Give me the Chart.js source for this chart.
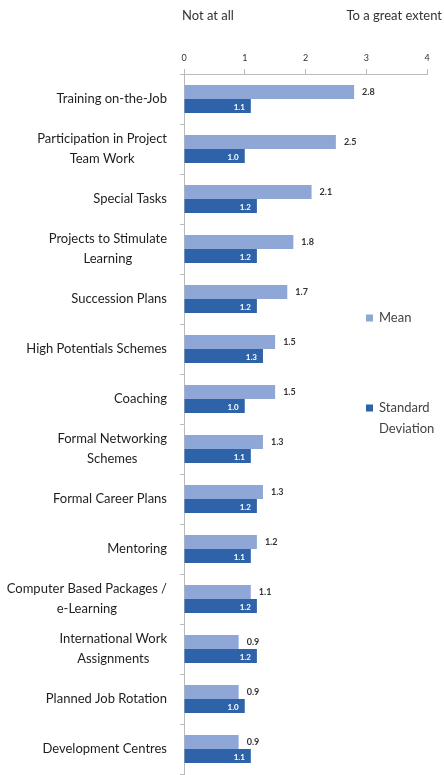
<!DOCTYPE html>
<html>
<head>
<meta charset="utf-8">
<script src="https://cdn.jsdelivr.net/npm/chart.js@4/dist/chart.umd.min.js"></script>
<style>
  html, body { margin: 0; padding: 0; background: #fff; }
  #wrap { position: relative; width: 444px; height: 775px; }
</style>
</head>
<body>
<div id="wrap"><canvas id="c" width="444" height="775"></canvas></div>
<script>
const categories = [
  "Training on-the-Job",
  ["Participation in Project", "Team Work"],
  "Special Tasks",
  ["Projects to Stimulate", "Learning"],
  "Succession Plans",
  "High Potentials Schemes",
  "Coaching",
  ["Formal Networking", "Schemes"],
  "Formal Career Plans",
  "Mentoring",
  ["Computer Based Packages /", "e-Learning"],
  ["International Work", "Assignments"],
  "Planned Job Rotation",
  "Development Centres"
];
const meanValues = [2.8, 2.5, 2.1, 1.8, 1.7, 1.5, 1.5, 1.3, 1.3, 1.2, 1.1, 0.9, 0.9, 0.9];
const sdValues   = [1.1, 1.0, 1.2, 1.2, 1.2, 1.3, 1.0, 1.1, 1.2, 1.1, 1.2, 1.2, 1.0, 1.1];
const xTicks = [0, 1, 2, 3, 4];
const seriesNames = ["Mean", ["Standard", "Deviation"]];
const scaleEnds = ["Not at all", "To a great extent"];

const FONT = "Lato, 'Open Sans', sans-serif";
const LIGHT = "#8ea7d7";
const DARK = "#2f63a9";

const decorPlugin = {
  id: 'decor',
  afterDatasetsDraw(chart) {
    const ctx = chart.ctx;
    const x = chart.scales.x;
    const y = chart.scales.y;
    ctx.save();
    // category labels: block right-aligned, lines centred within block
    ctx.fillStyle = '#1e1e1e';
    ctx.font = "13px " + FONT;
    ctx.textBaseline = 'middle';
    ctx.textAlign = 'center';
    const rightEdge = y.right - 17;
    const lh = 20;
    chart.data.labels.forEach((lab, i) => {
      const lines = Array.isArray(lab) ? lab : [lab];
      const w = Math.max(...lines.map(l => ctx.measureText(l).width));
      const cx = rightEdge - w / 2;
      const cy = y.getPixelForTick(i);
      lines.forEach((ln, j) => {
        ctx.fillText(ln, cx, cy + (j - (lines.length - 1) / 2) * lh);
      });
    });
    // value labels
    chart.data.datasets.forEach((ds, di) => {
      const meta = chart.getDatasetMeta(di);
      meta.data.forEach((bar, i) => {
        const v = ds.data[i].toFixed(1);
        if (di === 0) {
          ctx.fillStyle = '#333';
          ctx.font = "bold 9px " + FONT;
          ctx.textAlign = 'left';
          ctx.textBaseline = 'middle';
          ctx.fillText(v, bar.x + 8, bar.y);
        } else {
          ctx.fillStyle = '#ffffff';
          ctx.font = "bold 8px " + FONT;
          ctx.textAlign = 'right';
          ctx.textBaseline = 'middle';
          ctx.fillText(v, bar.x - 6, bar.y + 1);
        }
      });
    });
    // scale end captions
    ctx.fillStyle = '#333';
    ctx.font = "13px " + FONT;
    ctx.textBaseline = 'middle';
    ctx.textAlign = 'left';
    ctx.fillText(scaleEnds[0], x.getPixelForValue(0) - 2, 16);
    ctx.textAlign = 'right';
    ctx.fillText(scaleEnds[1], 442, 16);
    // legend
    const colors = [LIGHT, DARK];
    const legendY = [318, 408];
    seriesNames.forEach((name, k) => {
      const lines = Array.isArray(name) ? name : [name];
      ctx.fillStyle = colors[k];
      ctx.fillRect(366, legendY[k] - 3.5, 7, 7);
      ctx.fillStyle = '#444';
      ctx.font = "13px " + FONT;
      ctx.textAlign = 'left';
      lines.forEach((ln, j) => ctx.fillText(ln, 379, legendY[k] + j * 21));
    });
    ctx.restore();
  }
};

new Chart(document.getElementById('c'), {
  type: 'bar',
  data: {
    labels: categories,
    datasets: [
      { label: 'Mean', data: meanValues, backgroundColor: LIGHT, borderWidth: 0,
        categoryPercentage: 0.56, barPercentage: 1.0 },
      { label: 'Standard Deviation', data: sdValues, backgroundColor: DARK, borderWidth: 0,
        categoryPercentage: 0.56, barPercentage: 1.0 }
    ]
  },
  options: {
    indexAxis: 'y',
    responsive: false,
    animation: false,
    layout: { padding: { left: 0, right: 17, top: 0, bottom: 1 } },
    plugins: { legend: { display: false }, tooltip: { enabled: false } },
    scales: {
      x: {
        position: 'top',
        min: 0, max: 4,
        afterBuildTicks(s) { s.ticks = xTicks.map(v => ({ value: v })); },
        afterFit(s) { s.height = 74; s.paddingLeft = 0; s.paddingRight = 0; },
        border: { display: true, color: '#bbb', width: 1 },
        grid: { drawOnChartArea: false, drawTicks: true, tickLength: 5, color: '#bbb' },
        ticks: { color: '#333', font: { family: FONT, size: 9 }, padding: 6 }
      },
      y: {
        afterFit(s) { s.width = 184; s.paddingTop = 0; s.paddingBottom = 0; },
        border: { display: true, color: '#bbb', width: 1 },
        grid: { drawOnChartArea: false, drawTicks: true, tickLength: 4, color: '#bbb', offset: true },
        ticks: { display: false }
      }
    }
  },
  plugins: [decorPlugin]
});
</script>
</body>
</html>
